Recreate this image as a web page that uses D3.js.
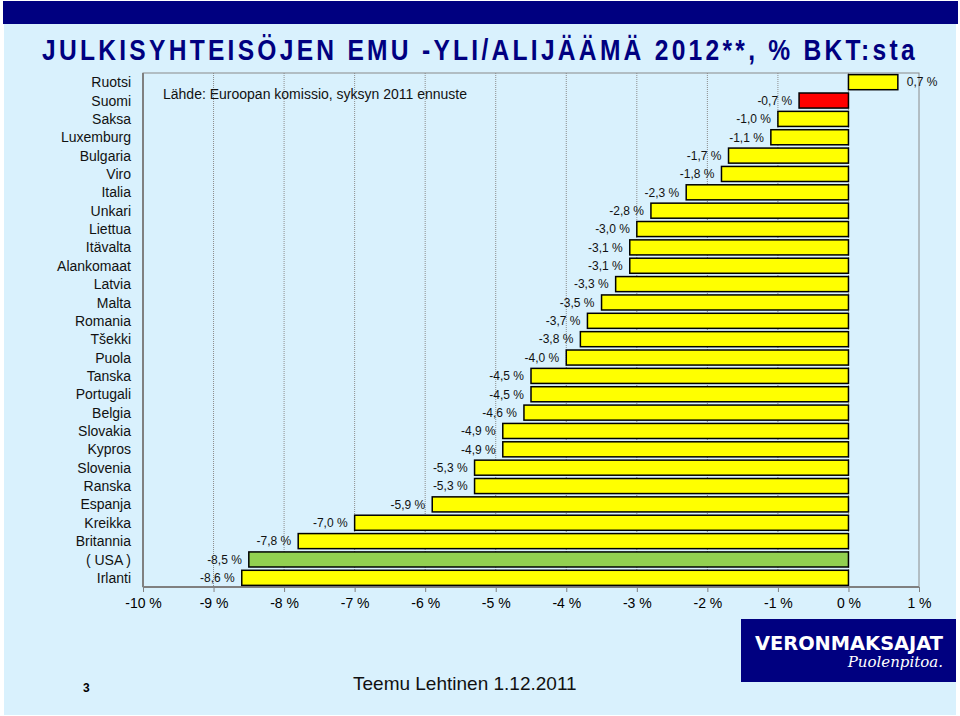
<!DOCTYPE html>
<html>
<head>
<meta charset="utf-8">
<script src="https://cdn.jsdelivr.net/npm/d3@7"></script>
<style>
  body { margin: 0; background: #fff; }
  svg { display: block; font-family: "Liberation Sans", Arial, sans-serif; }
</style>
</head>
<body>
<svg id="chart" width="960" height="716"></svg>
<script>
// data
const countries = ["Ruotsi", "Suomi", "Saksa", "Luxemburg", "Bulgaria", "Viro", "Italia", "Unkari",
  "Liettua", "Itävalta", "Alankomaat", "Latvia", "Malta", "Romania", "Tšekki", "Puola", "Tanska",
  "Portugali", "Belgia", "Slovakia", "Kypros", "Slovenia", "Ranska", "Espanja", "Kreikka",
  "Britannia", "( USA )", "Irlanti"];
const balance = [0.7, -0.7, -1.0, -1.1, -1.7, -1.8, -2.3, -2.8, -3.0, -3.1, -3.1, -3.3, -3.5,
  -3.7, -3.8, -4.0, -4.5, -4.5, -4.6, -4.9, -4.9, -5.3, -5.3, -5.9, -7.0, -7.8, -8.5, -8.6];
const xTicks = [-10, -9, -8, -7, -6, -5, -4, -3, -2, -1, 0, 1];
const highlight = { "Suomi": "#ff0000", "( USA )": "#92d050" };

const svg = d3.select("#chart");

// page background + header bar
svg.append("rect").attr("x", 4).attr("y", 24).attr("width", 952).attr("height", 691).attr("fill", "#d9f1fd");
svg.append("rect").attr("x", 3).attr("y", 1).attr("width", 955).attr("height", 23).attr("fill", "#000080");

// condensed, letter-spaced title: squeeze horizontally to the slide's width
const title = svg.append("text")
    .attr("font-size", 30).attr("font-weight", "bold").attr("fill", "#000080")
    .style("letter-spacing", "4px")
    .text("JULKISYHTEISÖJEN EMU -YLI/ALIJÄÄMÄ 2012**, % BKT:sta");
const titleW = title.node().getComputedTextLength() - 4;
title.attr("transform", `translate(42,60) scale(${873 / titleW},1)`);

// plot area
const plotL = 143, plotR = 919, plotT = 73, plotB = 587;

const x = d3.scaleLinear().domain([-10, 1]).range([plotL, plotR]);
const y = d3.scaleBand().domain(countries).range([plotT, plotB]).paddingInner(0.18).paddingOuter(0.09);

const data = countries.map((c, i) => ({ country: c, value: balance[i] }));

// grid
svg.append("g")
  .selectAll("line")
  .data(xTicks.filter(t => t > -10 && t < 1))
  .join("line")
    .attr("x1", d => x(d)).attr("x2", d => x(d))
    .attr("y1", plotT).attr("y2", plotB)
    .attr("stroke", "#8c8c8c").attr("stroke-width", 1).attr("stroke-dasharray", "1,1");

// frame
svg.append("rect")
    .attr("x", plotL).attr("y", plotT).attr("width", plotR - plotL).attr("height", plotB - plotT)
    .attr("fill", "none").attr("stroke", "#8a8a8a").attr("stroke-width", 1);
svg.append("line").attr("x1", plotL).attr("x2", plotL).attr("y1", plotT).attr("y2", plotB)
    .attr("stroke", "#808080").attr("stroke-width", 2);
svg.append("line").attr("x1", plotL).attr("x2", plotR).attr("y1", plotB).attr("y2", plotB)
    .attr("stroke", "#808080").attr("stroke-width", 2);

// bottom axis
const xAxis = svg.append("g")
    .attr("transform", `translate(0,${plotB})`)
    .call(d3.axisBottom(x).tickValues(xTicks).tickSize(5).tickPadding(6).tickFormat(d => d + " %"));
xAxis.select(".domain").remove();
xAxis.selectAll(".tick line").attr("stroke", "#808080");
xAxis.selectAll(".tick text").attr("font-size", 14).attr("fill", "#000")
    .attr("font-family", "Liberation Sans, Arial, sans-serif");

// category labels
svg.append("g")
  .selectAll("text")
  .data(countries)
  .join("text")
    .attr("x", 131)
    .attr("y", d => y(d) + y.bandwidth() / 2)
    .attr("dy", "0.36em")
    .attr("text-anchor", "end")
    .attr("font-size", 14)
    .attr("fill", "#111")
    .text(d => d);

// bars
svg.append("g")
  .selectAll("rect")
  .data(data)
  .join("rect")
    .attr("x", d => x(Math.min(0, d.value)))
    .attr("y", d => y(d.country))
    .attr("width", d => Math.abs(x(d.value) - x(0)))
    .attr("height", y.bandwidth())
    .attr("fill", d => highlight[d.country] || "#ffff00")
    .attr("stroke", "#000")
    .attr("stroke-width", 1.5);

// value labels
const fmt = v => d3.format(".1f")(v).replace("−", "-").replace(".", ",") + " %";
svg.append("g")
  .selectAll("text")
  .data(data)
  .join("text")
    .attr("x", d => d.value < 0 ? x(d.value) - 7 : x(d.value) + 9)
    .attr("y", d => y(d.country) + y.bandwidth() / 2)
    .attr("dy", "0.36em")
    .attr("text-anchor", d => d.value < 0 ? "end" : "start")
    .attr("font-size", 12)
    .attr("fill", "#111")
    .text(d => fmt(d.value));

// source note
svg.append("text").attr("x", 163).attr("y", 99).attr("font-size", 14).attr("fill", "#111")
    .text("Lähde: Euroopan komissio, syksyn 2011 ennuste");

// footer
svg.append("text").attr("x", 83).attr("y", 692).attr("font-size", 12).attr("font-weight", "bold")
    .text("3");
svg.append("text").attr("x", 353).attr("y", 690).attr("font-size", 19).attr("fill", "#111")
    .text("Teemu Lehtinen  1.12.2011");

// logo
svg.append("rect").attr("x", 741).attr("y", 619).attr("width", 215).attr("height", 63).attr("fill", "#000080");
svg.append("text").attr("x", 755).attr("y", 650).attr("textLength", 188).attr("lengthAdjust", "spacingAndGlyphs")
    .attr("font-size", 19).attr("font-weight", "bold").attr("fill", "#fff")
    .attr("font-family", "DejaVu Sans, sans-serif")
    .text("VERONMAKSAJAT");
svg.append("text").attr("x", 943).attr("y", 667).attr("text-anchor", "end")
    .attr("font-size", 15).attr("font-style", "italic").attr("fill", "#fff")
    .attr("font-family", "DejaVu Serif, serif")
    .text("Puolenpitoa.");
</script>
</body>
</html>
